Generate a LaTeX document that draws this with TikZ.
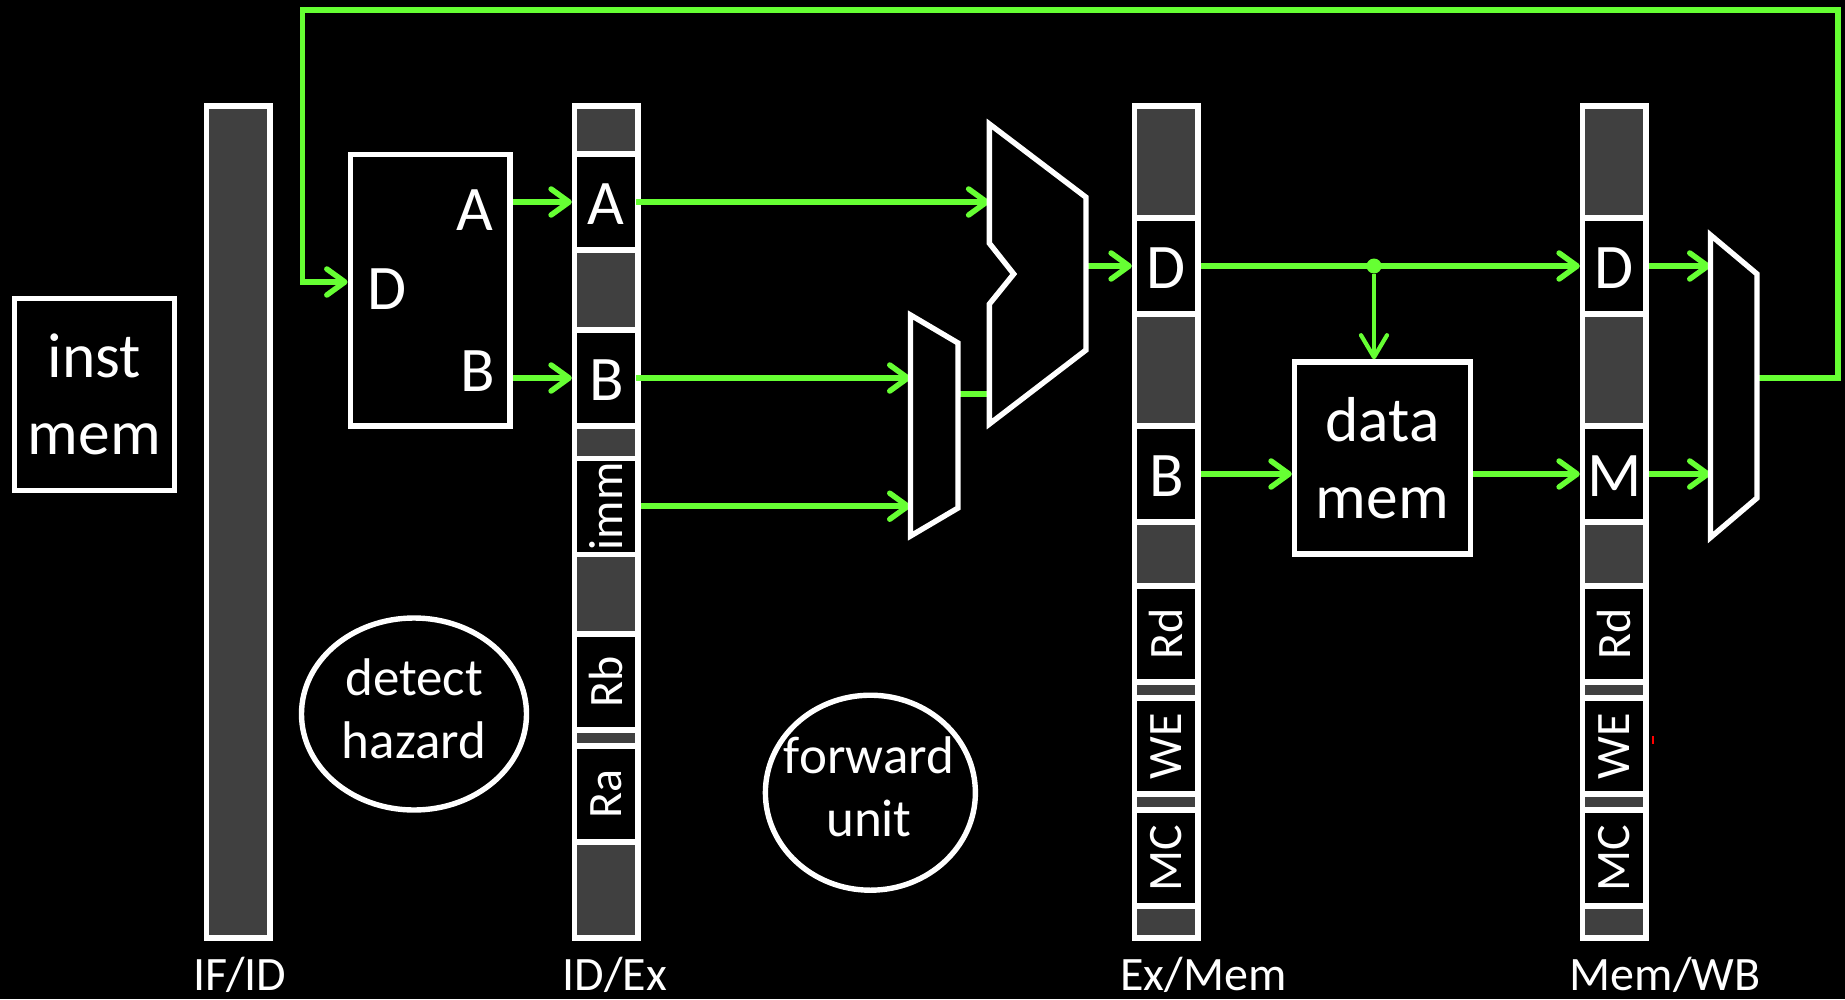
\documentclass[tikz,border=0pt]{standalone}
\usepackage{fontspec}
\setmainfont{Carlito}
\usepackage{graphicx}
\usetikzlibrary{shapes,arrows.meta,positioning}
\definecolor{wiregreen}{HTML}{66FF33}
\definecolor{reggray}{HTML}{404040}
\tikzset{
	bigtext/.style={font=\fontsize{63.5}{77}\selectfont, text=white, align=center},
	midtext/.style={font=\fontsize{53}{63}\selectfont, text=white, align=center},
	smalltext/.style={font=\fontsize{48}{56}\selectfont, text=white},
	box/.style={draw=white, line width=5.4pt, fill=black, inner sep=0pt},
	reg/.style={draw=white, line width=5.4pt, fill=reggray, minimum width=63.5pt, inner sep=0pt},
	cell/.style={box, minimum width=63.5pt, minimum height=96pt, text=white},
	lettercell/.style={cell, font=\fontsize{63.5}{77}\selectfont, text height=44pt, text depth=0pt},
	sidecell/.style={cell, font=\fontsize{48}{56}\selectfont},
	bubble/.style={box, ellipse},
	mux/.style={draw=white, line width=5.4pt, line join=miter, fill=black},
	wire/.style={draw=wiregreen, line width=5.5pt, line join=miter},
	arrowwire/.style={wire, -{Straight Barb[length=18pt, width=26pt, round]}},
	droparrow/.style={wire, line width=4.2pt, -{Straight Barb[length=22pt, width=26pt, round]}}
}
\begin{document}
\begin{tikzpicture}[x=1pt, y=-1pt]
	\fill [black] (0 , 0) rectangle (1845 , 999);
	\useasboundingbox (0 , 0) rectangle (1845 , 999);

	\node [box, bigtext, minimum width=160pt, minimum height=192pt] (instmem) at (94.2 , 394.3) {inst\\mem};
	\node [reg, minimum height=832pt] (ifid) at (238.2 , 522) {};
	\node [reg, minimum height=832pt] (idex) at (606.3 , 522) {};
	\node [reg, minimum height=832pt] (exmem) at (1166.3 , 522) {};
	\node [reg, minimum height=832pt] (memwb) at (1614.3 , 522) {};

	\node [box, minimum width=159.7pt, minimum height=271.7pt] (regfile) at (430.2 , 290.2) {};
	\node [bigtext, anchor=base] (portA) at (475 , 230) {A};
	\node [bigtext, anchor=base] (portB) at (477.7 , 391.8) {B};
	\node [bigtext, anchor=base] (portD) at (386.6 , 309) {D};

	\node [lettercell] (idA) at (606.3 , 202) {A};
	\node [lettercell] (idB) at (606.3 , 378) {B};
	\node [sidecell] (idimm) at (606.3 , 506.2) {\rotatebox{90}{imm}};
	\node [sidecell] (idRb) at (606.3 , 682) {\rotatebox{90}{Rb}};
	\node [sidecell] (idRa) at (606.3 , 794) {\rotatebox{90}{Ra}};

	\node [lettercell] (exD) at (1166.3 , 266) {D};
	\node [lettercell] (exB) at (1166.3 , 474) {B};
	\node [sidecell] (exRd) at (1166.3 , 634) {\rotatebox{90}{Rd}};
	\node [sidecell] (exWE) at (1166.3 , 746) {\rotatebox{90}{WE}};
	\node [sidecell] (exMC) at (1166.3 , 858) {\rotatebox{90}{MC}};

	\node [lettercell] (wbD) at (1614.3 , 266) {D};
	\node [lettercell] (wbM) at (1614.3 , 474) {M};
	\node [sidecell] (wbRd) at (1614.3 , 634) {\rotatebox{90}{Rd}};
	\node [sidecell] (wbWE) at (1614.3 , 746) {\rotatebox{90}{WE}};
	\node [sidecell] (wbMC) at (1614.3 , 858) {\rotatebox{90}{MC}};

	\node [box, bigtext, minimum width=176pt, minimum height=192pt] (datamem) at (1382.5 , 458) {data\\mem};
	\node [bubble, minimum width=225pt, minimum height=192pt] (hazard) at (414 , 714) {};
	\node [midtext] (hazardtext) at (414 , 708.5) {detect\\hazard};
	\node [bubble, minimum width=210pt, minimum height=195pt] (forward) at (870.4 , 792.7) {};
	\node [midtext] (forwardtext) at (869 , 787) {forward\\unit};

	\node [smalltext, anchor=base] (ifidname) at (240 , 990) {IF/ID};
	\node [smalltext, anchor=base] (idexname) at (615 , 990) {ID/Ex};
	\node [smalltext, anchor=base] (exmemname) at (1203.5 , 990) {Ex/Mem};
	\node [smalltext, anchor=base] (memwbname) at (1665 , 990) {Mem/WB};
	\node [fill=red, inner sep=0pt, minimum width=1.5pt, minimum height=8pt] (speck) at (1653 , 740) {};

	\coordinate (aluin) at (989.4 , 202);
	\coordinate (aluout) at (1086.8 , 266);
	\coordinate (aluside) at (989.4 , 394);
	\coordinate (immuxin) at (910.5 , 378);
	\coordinate (immuxout) at (958 , 394);
	\coordinate (wbmuxin) at (1710.5 , 266);
	\coordinate (wbmuxout) at (1757 , 378);
	\coordinate (backne) at (1838 , 10);
	\coordinate (backnw) at (302.7 , 10);
	\coordinate (regin) at (347.6 , 282);
	\node [circle, fill=wiregreen, inner sep=0pt, minimum size=15pt] (fork) at (1374 , 266) {};

	\draw [arrowwire] (idA.west -| regfile.east) -- (idA.west);
	\draw [arrowwire] (idB.west -| regfile.east) -- (idB.west);
	\draw [arrowwire] ([xshift=-5pt]idA.east) -- (aluin);
	\draw [arrowwire] ([xshift=-5pt]idB.east) -- (immuxin);
	\draw [arrowwire] (idimm.east) -- (idimm.east -| immuxin);
	\draw [wire] (immuxout) -- (aluside);
	\draw [arrowwire] (aluout) -- (exD.west);
	\draw [arrowwire] (exD.east) -- (wbD.west);
	\draw [droparrow] (fork) -- (fork |- datamem.north);
	\draw [arrowwire] (exB.east) -- (datamem.west |- exB.east);
	\draw [arrowwire] (datamem.east |- wbM.west) -- (wbM.west);
	\draw [arrowwire] (wbD.east) -- (wbmuxin);
	\draw [arrowwire] (wbM.east) -- (wbM.east -| wbmuxin);
	\draw [arrowwire] (wbmuxout) -- (wbmuxout -| backne) -- (backne) -- (backnw) -- (backnw |- regin) -- (regin);

	\draw [mux] (989.4 , 124) -- (1086 , 197.3) -- (1086 , 350) -- (989.4 , 424) -- (989.4 , 304) -- (1013.7 , 274) -- (989.4 , 243.3) -- cycle;
	\draw [mux] (910.5 , 315) -- (958 , 343) -- (958 , 508) -- (910.5 , 536) -- cycle;
	\draw [mux] (1710.5 , 235) -- (1757 , 274) -- (1757 , 498) -- (1710.5 , 537.5) -- cycle;
\end{tikzpicture}
\end{document}
